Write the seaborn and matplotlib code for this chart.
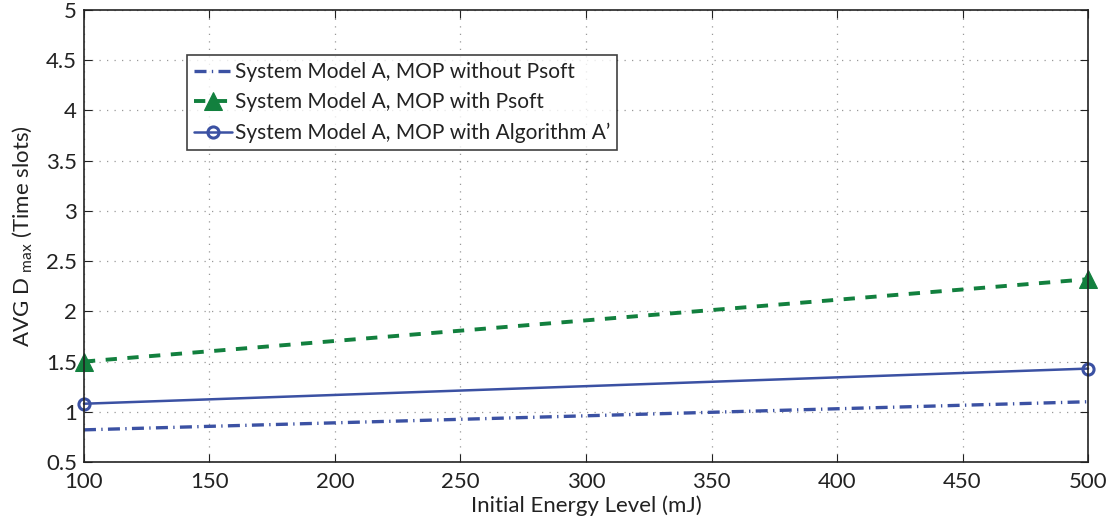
import matplotlib
matplotlib.use("Agg")
import matplotlib.pyplot as plt
import seaborn as sns
import pandas as pd

# Initial energy levels (mJ) and average maximum delay per scheme
energy = [100, 500]
mop_without_psoft = [0.82, 1.10]
mop_with_psoft = [1.50, 2.32]
mop_algorithm_a = [1.08, 1.43]

labels = [
    "System Model A, MOP without Psoft",
    "System Model A, MOP with Psoft",
    "System Model A, MOP with Algorithm A\u2019",
]

x_ticks = [100, 150, 200, 250, 300, 350, 400, 450, 500]
y_ticks = [0.5, 1, 1.5, 2, 2.5, 3, 3.5, 4, 4.5, 5]

sns.set_style("white")
plt.rcParams["font.family"] = ["Lato", "DejaVu Sans"]
plt.rcParams["mathtext.fontset"] = "custom"
plt.rcParams["mathtext.rm"] = "Lato"

blue = "#3b51a3"
green = "#12803e"

fig = plt.figure(figsize=(11.18, 5.25), dpi=100)
ax = fig.add_axes([0.0751, 0.12, 0.8981, 0.861])

df1 = pd.DataFrame({"x": energy, "y": mop_without_psoft})
df2 = pd.DataFrame({"x": energy, "y": mop_with_psoft})
df3 = pd.DataFrame({"x": energy, "y": mop_algorithm_a})

sns.lineplot(data=df1, x="x", y="y", ax=ax, color=blue, lw=2.4,
             clip_on=False, legend=False)
line1 = ax.lines[-1]
line1.set_dashes([3.6, 1.6, 0.4, 1.6])

sns.lineplot(data=df2, x="x", y="y", ax=ax, color=green, lw=2.8,
             marker="^", markersize=13, markeredgecolor=green,
             clip_on=False, legend=False)
line2 = ax.lines[-1]
line2.set_dashes([2.9, 2.7])

sns.lineplot(data=df3, x="x", y="y", ax=ax, color=blue, lw=1.8,
             marker="o", markersize=8, markerfacecolor="none",
             markeredgewidth=2.2, markeredgecolor=blue,
             clip_on=False, legend=False)
line3 = ax.lines[-1]

ax.set_xlim(100, 500)
ax.set_ylim(0.5, 5)
ax.set_xticks(x_ticks)
ax.set_yticks(y_ticks)
ax.set_xticklabels([str(v) for v in x_ticks])
ax.set_yticklabels([f"{v:g}" for v in y_ticks])
ax.tick_params(direction="in", length=6, width=0.8, colors="#222222",
               labelsize=16, top=True, right=True, bottom=True, left=True)
ax.tick_params(axis="x", pad=7)
ax.tick_params(axis="y", pad=5)
ax.grid(True, linestyle=(0, (1, 5)), color="#999999", linewidth=0.9)

for s in ax.spines.values():
    s.set_color("#222222")
    s.set_linewidth(1.2)

ax.set_xlabel("Initial Energy Level (mJ)", fontsize=16, labelpad=3,
              color="#222222")
ax.set_ylabel(r"AVG D $_{\mathregular{max}}$ (Time slots)", fontsize=16,
              labelpad=8, color="#222222")

leg = ax.legend(handles=[line1, line2, line3], labels=labels,
                loc="upper left", bbox_to_anchor=(0.1025, 0.9), fontsize=15,
                frameon=True, fancybox=False, borderpad=0.35,
                handlelength=1.8, handletextpad=0.15, labelspacing=0.48,
                borderaxespad=0)
leg.get_frame().set_edgecolor("#111111")
leg.get_frame().set_linewidth(1.2)
for t in leg.get_texts():
    t.set_color("#222222")

fig.savefig("out.png", dpi=100)
